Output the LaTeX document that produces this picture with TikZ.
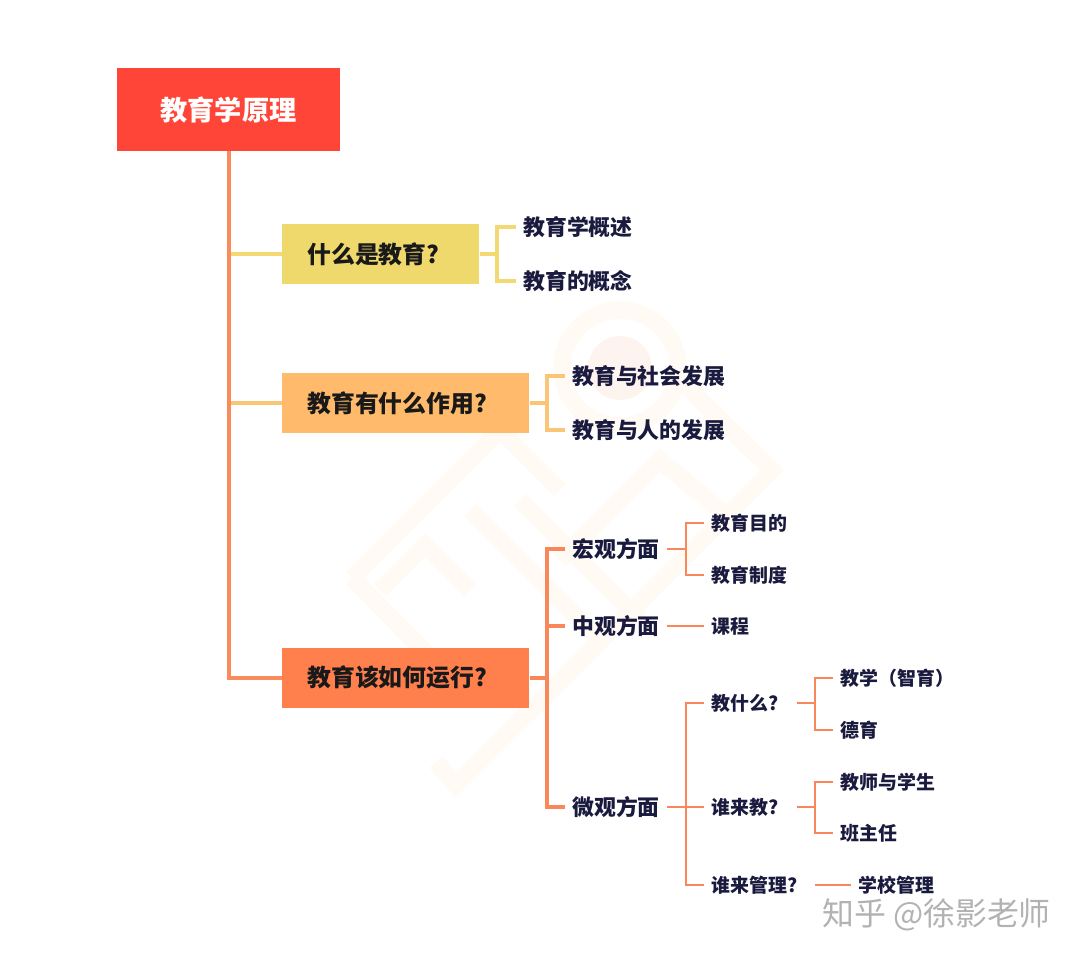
\documentclass[tikz,border=0pt]{standalone}
\usepackage{fontspec}
\setmainfont{Noto Sans CJK SC}[BoldFont=* Black]
\definecolor{rootred}{HTML}{FF4538}
\definecolor{trunkor}{HTML}{F98B5C}
\definecolor{yellowbr}{HTML}{F3D873}
\definecolor{yellowbox}{HTML}{EFD96C}
\definecolor{amberbr}{HTML}{FBC578}
\definecolor{amberbox}{HTML}{FFBB6B}
\definecolor{orangebox}{HTML}{FF7F4D}
\definecolor{orangebr}{HTML}{F9875A}
\definecolor{inkblue}{HTML}{1A1A3E}
\definecolor{markpale}{HTML}{FFFBF4}
\definecolor{markpink}{HTML}{FDF4EF}
\tikzset{
	rootbox/.style={fill=rootred, text=white, font=\bfseries\fontsize{20.4}{24}\selectfont, minimum width=167.25pt, minimum height=62.25pt, inner sep=0pt},
	topicbox/.style={font=\bfseries\fontsize{17.9}{22}\selectfont, text=black!90, anchor=west, minimum height=45pt, inner xsep=18.75pt, inner ysep=0pt, align=left},
	leafbig/.style={font=\bfseries\fontsize{16.4}{20}\selectfont, text=inkblue, anchor=west, inner xsep=5.25pt, inner ysep=0pt},
	leafsmall/.style={font=\bfseries\fontsize{14.2}{18}\selectfont, text=inkblue, anchor=west, inner xsep=5.5pt, inner ysep=0pt, align=left},
	branchthick/.style={line width=3pt},
	branchthin/.style={line width=2.2pt, orangebr}
}
\begin{document}
\begin{tikzpicture}[x=0.75pt, y=-0.75pt]
	\useasboundingbox (0,0) rectangle (1080,960);
	
	% Filigrana di sfondo
	\draw[markpale, line width=13pt] (620,368) circle (58);
	\fill[markpink] (620,368) circle (32);
	\draw[markpale, line width=13pt] (352,578) -- (500,430) -- (560,490);
	\draw[markpale, line width=13pt] (352,578) -- (455,682);
	\draw[markpale, line width=13pt] (436,762) -- (456,785) -- (772,470) -- (680,380);
	\draw[markpale, line width=13pt] (380,590) -- (425,545) -- (470,590);
	\draw[markpale, line width=13pt] (470,510) -- (600,640);
	\draw[markpale, line width=13pt] (520,500) -- (640,620);
	\draw[markpale, line width=13pt] (560,560) -- (660,460) -- (720,510);
	
	% Radice
	\node[rootbox] (root) at (228.5,109.5) {教育学原理};
	
	% Riquadri dei temi
	\node[topicbox, fill=yellowbox, text width=110.25pt] (what) at (282,254) {什么是教育?};
	\node[topicbox, fill=amberbox, text width=147.75pt] (role) at (282,403) {教育有什么作用?};
	\node[topicbox, fill=orangebox, text width=147.75pt] (run) at (282,677.5) {教育该如何运行?};
	
	% Primo tema
	\node[leafbig] (w1) at (516,227) {教育学概述};
	\node[leafbig] (w2) at (516,281) {教育的概念};
	\coordinate (wf) at (497,254);
	
	% Secondo tema
	\node[leafbig] (r1) at (565,376) {教育与社会发展};
	\node[leafbig] (r2) at (565,430) {教育与人的发展};
	\coordinate (rf) at (547,403);
	
	% Terzo tema
	\node[leafbig] (macro) at (565,549) {宏观方面};
	\node[leafbig] (meso) at (565,626) {中观方面};
	\node[leafbig] (micro) at (565,807) {微观方面};
	\coordinate (nf) at (547,677.5);
	
	\node[leafsmall] (m1) at (704,523) {教育目的};
	\node[leafsmall] (m2) at (704,575) {教育制度};
	\node[leafsmall] (c1) at (704,626) {课程};
	\coordinate (mf) at (686,549);
	
	\node[leafsmall, text width=58.5pt] (q1) at (704,703) {教什么?};
	\node[leafsmall, text width=58.5pt] (q2) at (704,807) {谁来教?};
	\node[leafsmall, text width=72pt] (q3) at (704,885) {谁来管理?};
	\coordinate (qf) at (686,807);
	
	\node[leafsmall] (a1) at (833,678) {教学（智育）};
	\node[leafsmall] (a2) at (833,730) {德育};
	\node[leafsmall] (b1) at (833,782) {教师与学生};
	\node[leafsmall] (b2) at (833,833) {班主任};
	\node[leafsmall] (s1) at (851,885) {学校管理};
	\coordinate (af) at (815,703);
	\coordinate (bf) at (815,807);
	
	% Tronco principale
	\draw[branchthick, yellowbr] (229,254) -- (what.west);
	\draw[branchthick, amberbr] (229,403) -- (role.west);
	\draw[branchthick, trunkor] (root.south) |- (run.west);
	
	% Rami dei temi
	\draw[branchthick, yellowbr] (what.east) -- (wf);
	\draw[branchthick, yellowbr] (w1.west) -| (wf) |- (w2.west);
	\draw[branchthick, amberbr] (role.east) -- (rf);
	\draw[branchthick, amberbr] (r1.west) -| (rf) |- (r2.west);
	\draw[branchthick, orangebr] (run.east) -- (nf);
	\draw[branchthick, orangebr] (macro.west) -| (nf) |- (micro.west);
	\draw[branchthick, orangebr] (nf) |- (meso.west);
	
	% Rami sottili
	\draw[branchthin] (macro.east) -- (mf);
	\draw[branchthin] (m1.west) -| (mf) |- (m2.west);
	\draw[branchthin] (meso.east) -- (c1.west);
	\draw[branchthin] (micro.east) -- (q2.west);
	\draw[branchthin] (q1.west) -| (qf) |- (q3.west);
	\draw[branchthin] (q1.east) -- (af);
	\draw[branchthin] (a1.west) -| (af) |- (a2.west);
	\draw[branchthin] (q2.east) -- (bf);
	\draw[branchthin] (b1.west) -| (bf) |- (b2.west);
	\draw[branchthin] (q3.east) -- (s1.west);
	
	% Firma
	\node[anchor=west, inner sep=0pt, text=black!30, font=\fontsize{23.9}{28}\selectfont] (sign) at (822,915) {知乎 @徐影老师};
\end{tikzpicture}
\end{document}
